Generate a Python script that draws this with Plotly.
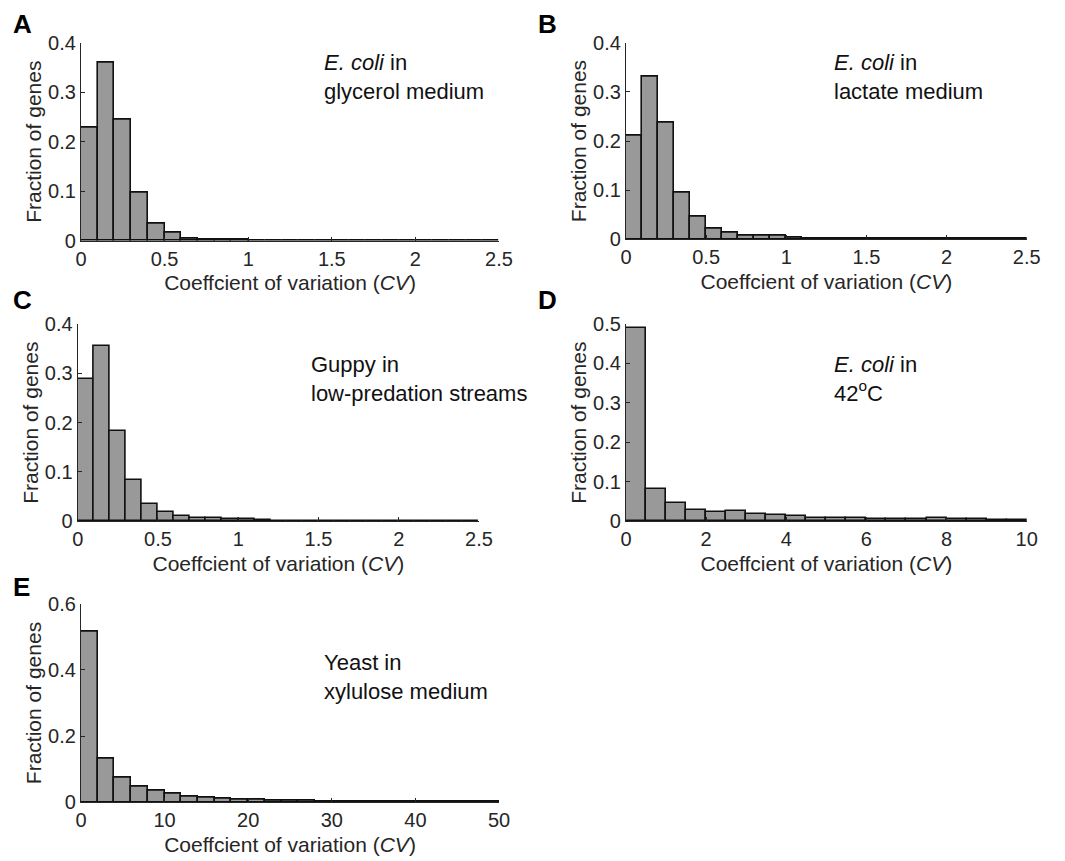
import numpy as np
import plotly.graph_objects as go

W, H = 1065, 861

# fraction of genes per CV bin
glycerol_bin = 0.1
glycerol = [0.229, 0.360, 0.244, 0.097, 0.035, 0.016, 0.005, 0.003, 0.0015, 0.003,
            0.001, 0.0003, 0.0003, 0.0002, 0.0002, 0.0002, 0.0002, 0.0002, 0.0002, 0.0002,
            0.0002, 0.0002, 0.0002, 0.0002, 0.0002]

lactate_bin = 0.1
lactate = [0.211, 0.331, 0.238, 0.095, 0.046, 0.021, 0.014, 0.008, 0.008, 0.007,
           0.004, 0.002, 0.001, 0.001, 0.0015, 0.001, 0.0003, 0.0003, 0.0003, 0.0003,
           0.0003, 0.0003, 0.0003, 0.0003, 0.0003]

guppy_bin = 0.1
guppy = [0.288, 0.355, 0.184, 0.084, 0.036, 0.018, 0.011, 0.0075, 0.006, 0.0045,
         0.004, 0.003, 0.001, 0.001, 0.001, 0.001, 0.001, 0.001, 0.001, 0.001,
         0.001, 0.0003, 0.0003, 0.0003, 0.0003]

heat_bin = 0.5
heat = [0.489, 0.081, 0.047, 0.029, 0.023, 0.026, 0.019, 0.017, 0.014, 0.009,
        0.009, 0.0085, 0.006, 0.005, 0.006, 0.008, 0.006, 0.006, 0.004, 0.004]

xylulose_bin = 2
xylulose = [0.516, 0.131, 0.073, 0.047, 0.034, 0.025, 0.018, 0.014, 0.011, 0.008,
            0.008, 0.006, 0.006, 0.004, 0.003, 0.003, 0.003, 0.002, 0.002, 0.002,
            0.0015, 0.0015, 0.001, 0.001, 0.001]

panels = [
    # letter, data, bin, xmax, xdtick, ymax, ydtick, label, box px (l, t, r, b), label px (x, y)
    ("A", glycerol, glycerol_bin, 2.5, 0.5, 0.4, 0.1,
     "<i>E. coli</i> in<br>glycerol medium", (81, 42.7, 499, 240.7), (322, 48)),
    ("B", lactate, lactate_bin, 2.5, 0.5, 0.4, 0.1,
     "<i>E. coli</i> in<br>lactate medium", (626, 42.7, 1026.7, 239.3), (832, 48)),
    ("C", guppy, guppy_bin, 2.5, 0.5, 0.4, 0.1,
     "Guppy in<br>low-predation streams", (77.7, 324, 479, 521.3), (309, 350)),
    ("D", heat, heat_bin, 10, 2, 0.5, 0.1,
     "<i>E. coli</i> in<br>42<sup>o</sup>C", (626, 324, 1026.7, 521.3), (832, 350)),
    ("E", xylulose, xylulose_bin, 50, 10, 0.6, 0.2,
     "Yeast in<br>xylulose medium", (81, 603.7, 499, 802.3), (322, 648)),
]
letter_pos = {"A": (11, 24), "B": (536, 24), "C": (11, 300), "D": (536, 300), "E": (11, 587)}

font = "Liberation Sans, Arial, sans-serif"
axis_col = "#262626"

fig = go.Figure()
annotations = []

for i, (letter, vals, binw, xmax, xdt, ymax, ydt, label, box, lpos) in enumerate(panels):
    n = i + 1
    xa = "x" if n == 1 else f"x{n}"
    ya = "y" if n == 1 else f"y{n}"
    lefts = np.arange(len(vals)) * binw
    fig.add_trace(go.Bar(
        x=lefts, y=vals, width=binw, offset=0,
        marker=dict(color="#999999", line=dict(color="#111111", width=1.6)),
        xaxis=xa, yaxis=ya, showlegend=False,
    ))
    l, t, r, b = box
    axis_common = dict(
        showline=True, linecolor=axis_col, linewidth=1.2, mirror=False,
        ticks="inside", ticklen=4, tickwidth=1, tickcolor=axis_col,
        showgrid=False, zeroline=False, automargin=False,
        tickfont=dict(family=font, size=20, color=axis_col),
    )
    fig.layout[f"xaxis{'' if n == 1 else n}"] = dict(
        axis_common,
        domain=[l / W, r / W], anchor=ya, range=[0, xmax], dtick=xdt, tick0=0,
        title=dict(text="Coeffcient of variation (<i>CV</i>)", standoff=6,
                   font=dict(family=font, size=21, color=axis_col)),
    )
    fig.layout[f"yaxis{'' if n == 1 else n}"] = dict(
        axis_common,
        domain=[1 - b / H, 1 - t / H], anchor=xa, range=[0, ymax], dtick=ydt, tick0=0,
        title=dict(text="Fraction of genes", standoff=0,
                   font=dict(family=font, size=21, color=axis_col)),
    )
    annotations.append(dict(
        text=label, x=lpos[0] / W, y=1 - lpos[1] / H, xref="paper", yref="paper",
        xanchor="left", yanchor="top", align="left", showarrow=False,
        font=dict(family=font, size=22, color="#111111"),
    ))
    lx, ly = letter_pos[letter]
    annotations.append(dict(
        text=f"<b>{letter}</b>", x=lx / W, y=1 - ly / H, xref="paper", yref="paper",
        xanchor="left", yanchor="middle", showarrow=False,
        font=dict(family=font, size=26, color="#000000"),
    ))

fig.update_layout(
    width=W, height=H, autosize=False,
    margin=dict(l=0, r=0, t=0, b=0),
    paper_bgcolor="white", plot_bgcolor="white",
    bargap=0, annotations=annotations,
)

# drop the browser's default page margin so the figure sits at (0, 0)
fig.write_html("out.html", config={"displayModeBar": False},
               post_script="document.body.style.margin='0';")
